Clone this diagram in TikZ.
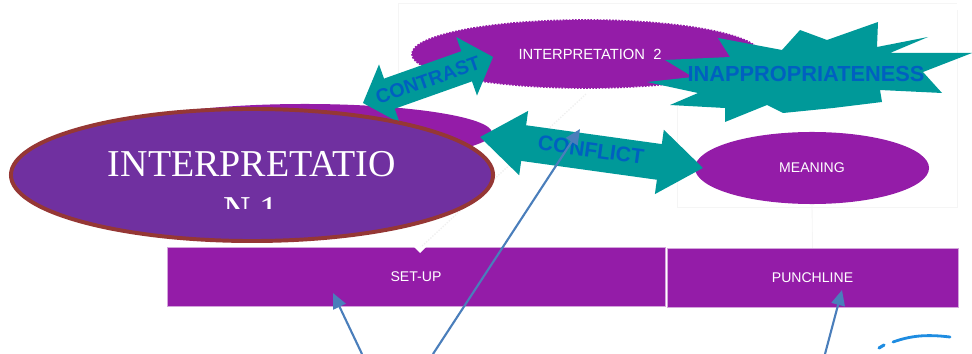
\documentclass[tikz,border=0pt]{standalone}
\usepackage{fontspec}
\setmainfont{Liberation Serif}
\setsansfont{Liberation Sans}
\usepackage{tikz}
\usetikzlibrary{shapes.geometric,arrows.meta,calc}

\definecolor{violetA}{RGB}{112,48,160}
\definecolor{violetB}{RGB}{148,28,168}
\definecolor{rim}{RGB}{149,55,53}
\definecolor{tealA}{RGB}{0,153,153}
\definecolor{blueT}{RGB}{0,96,192}
\definecolor{blueL}{RGB}{74,126,187}
\definecolor{pen}{RGB}{30,140,225}

\tikzset{
  blob/.style={ellipse,fill=violetB,inner sep=0pt,outer sep=0pt},
  bar/.style={rectangle,fill=violetB,draw=violetB!40,line width=0.4pt,inner sep=0pt,outer sep=0pt},
  lbl/.style={text=white,font=\sffamily\fontsize{10}{12}\selectfont},
  tag/.style={text=blueT,font=\sffamily\bfseries\fontsize{15}{18}\selectfont,inner sep=0pt},
  faint/.style={black!4,line width=0.6pt},
  pointer/.style={blueL,line width=1.5pt,-{Triangle[length=3.8mm,width=3.4mm]}},
}

% double headed block arrow: centre, angle, half length, shaft half width, head half width, head length
\newcommand{\twohead}[6]{%
  \fill[tealA,shift={#1},rotate=#2] (-#3,0) -- (-#3+#6,-#5) -- (-#3+#6,-#4) -- (#3-#6,-#4)
    -- (#3-#6,-#5) -- (#3,0) -- (#3-#6,#5) -- (#3-#6,#4) -- (-#3+#6,#4) -- (-#3+#6,#5) -- cycle;}

\begin{document}
\begin{tikzpicture}[x=0.025cm,y=-0.025cm,>=stealth]
			\useasboundingbox (0,0) rectangle (972,354);
			
			% faint frames of the slide
			\draw[faint] (398,100) -- (398,3) -- (957,3);
			\draw[faint] (677,100) -- (677,207) -- (957,207) -- (957,10);
			
			\node[bar,minimum width=12.45cm,minimum height=1.475cm,lbl] (setup) at (416,276.5) {SET-UP};
			\node[bar,minimum width=7.275cm,minimum height=1.475cm,lbl] (punch) at (812.5,277.5) {PUNCHLINE};
			
			\node[blob,minimum width=9.35cm,minimum height=1.45cm] (back) at (305,133) {};
			\node[blob,draw=violetB,line width=1.2pt,densely dotted,minimum width=8.7cm,minimum height=1.7cm] (interpB) at (586,54) {};
			\node[lbl,font=\sffamily\fontsize{10.5}{12}\selectfont] (interpBtext) at (590,54) {INTERPRETATION\ \ 2};
			\node[blob,minimum width=5.85cm,minimum height=1.8cm] (meaning) at (812,168) {};
			\node[lbl] (meaningtext) at (812,168) {MEANING};
			
			% faint links to the bars
			\coordinate (notch) at (420,248);
			\draw[black!6,densely dotted,line width=1pt] ($(interpB.south)+(0,6)$) -- (notch);
			\fill[white] (414,247) -- (426,247) -- (420,253) -- cycle;
			\draw[faint] (meaning.south) -- (punch.north);
			
			\twohead{(428,80)}{19.5}{69}{16}{31}{28}
			\node[tag,rotate=19.5,font=\sffamily\bfseries\fontsize{14}{16}\selectfont] (contrast) at (428,80) {CONTRAST};
			
			\node[ellipse,fill=violetA,draw=rim,line width=2.8pt,inner sep=0pt,minimum width=12.05cm,minimum height=3.3cm] (interpA) at (252,175) {};
			\node[text=white,anchor=base,font=\fontsize{27}{30}\selectfont,inner sep=0pt] (interpAtext) at (252,177) {INTERPRETATIO};
			\begin{scope}
				\clip (0,0) rectangle (972,208);
				\node[text=white,anchor=base,font=\fontsize{27}{30}\selectfont,inner sep=0pt] (interpAcut) at (251,222) {N 1};
			\end{scope}
			
			\twohead{(591.5,152.5)}{-7.9}{112.5}{18}{32.5}{44}
			\node[tag,rotate=-7.9] (conflict) at (591,150) {CONFLICT};
			
			\fill[tealA] (718,38) -- (782,50) -- (800,30) -- (827,40) -- (878,22) -- (877,47) -- (928,37)
				-- (890,53) -- (972,53) -- (923,72) -- (942,93) -- (880,90) -- (882,102) -- (833,108)
				-- (783,113) -- (767,105) -- (725,122) -- (725,108) -- (670,105) -- (698,93) -- (647,82)
				-- (693,77) -- (665,60) -- (730,57) -- cycle;
			\node[tag,font=\sffamily\bfseries\fontsize{15.5}{18}\selectfont] (inapp) at (806,74) {INAPPROPRIATENESS};
			
			\coordinate (p1) at (362,354);
			\coordinate (t1) at (333,293);
			\coordinate (p2) at (433,354);
			\coordinate (t2) at (580,129);
			\coordinate (p3) at (825,354);
			\coordinate (t3) at (842,290);
			\draw[pointer] (p1) -- (t1);
			\draw[pointer] (p2) -- (t2);
			\draw[pointer] (p3) -- (t3);
			
			\draw[pen,line width=2.2pt,line cap=round] (879,348) -- (884,345);
			\draw[pen,line width=2pt,line cap=round] (893,342) .. controls (910,336) and (925,334) .. (950,337);
		\end{tikzpicture}
\end{document}
